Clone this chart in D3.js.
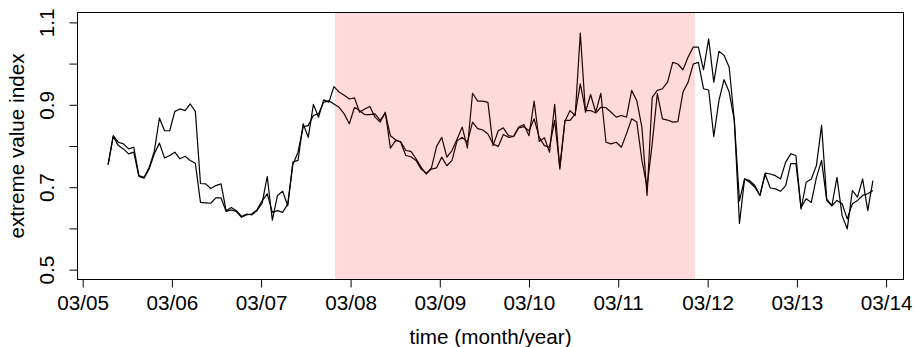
<!DOCTYPE html>
<meta charset="utf-8">
<head>
  <script src="https://d3js.org/d3.v7.min.js"></script>
  <style>
    body { margin: 0; background: #fff; }
    svg { display: block; }
    text { font-family: "Liberation Sans", Arial, sans-serif; fill: #000; }
  </style>
  <title>extreme value index</title>
</head>

<body>
  <!-- Create a div where the graph will take place -->
  <div id="my_dataviz"></div>

  <script>

    // sampling of the series: one value every 3 weeks
    var startDate = "2005-06-13";
    var stepDays = 21;

    // the two estimates of the index
    var seriesA = [
      0.755, 0.825, 0.809, 0.805, 0.793, 0.797, 0.728, 0.724, 0.748, 0.787,
      0.868, 0.837, 0.837, 0.884, 0.890, 0.886, 0.902, 0.884, 0.709, 0.708,
      0.697, 0.704, 0.708, 0.643, 0.651, 0.643, 0.629, 0.635, 0.633, 0.643,
      0.661, 0.726, 0.620, 0.680, 0.690, 0.655, 0.761, 0.765, 0.854, 0.821,
      0.901, 0.870, 0.912, 0.906, 0.944, 0.931, 0.923, 0.914, 0.917, 0.882,
      0.890, 0.896, 0.870, 0.858, 0.882, 0.795, 0.813, 0.811, 0.789, 0.787,
      0.769, 0.748, 0.732, 0.747, 0.799, 0.821, 0.773, 0.789, 0.817, 0.846,
      0.795, 0.928, 0.909, 0.909, 0.906, 0.801, 0.837, 0.844, 0.825, 0.823,
      0.846, 0.852, 0.825, 0.909, 0.811, 0.820, 0.785, 0.901, 0.744, 0.860,
      0.886, 0.874, 1.074, 0.882, 0.925, 0.882, 0.928, 0.809, 0.805, 0.809,
      0.797, 0.830, 0.866, 0.858, 0.765, 0.700, 0.805, 0.927, 0.866, 0.863,
      0.858, 0.859, 0.931, 0.955, 0.999, 1.003, 0.939, 0.936, 0.823, 0.910,
      0.961, 0.931, 0.862, 0.667, 0.720, 0.712, 0.700, 0.680, 0.732, 0.698,
      0.696, 0.690, 0.704, 0.757, 0.757, 0.651, 0.672, 0.663, 0.724, 0.765,
      0.668, 0.655, 0.668, 0.660, 0.623, 0.660, 0.668, 0.680, 0.684, 0.692
    ];
    var seriesB = [
      0.755, 0.823, 0.801, 0.793, 0.781, 0.785, 0.726, 0.722, 0.744, 0.781,
      0.807, 0.771, 0.777, 0.785, 0.769, 0.775, 0.765, 0.758, 0.663, 0.662,
      0.661, 0.674, 0.674, 0.641, 0.645, 0.641, 0.627, 0.633, 0.635, 0.645,
      0.667, 0.684, 0.639, 0.643, 0.639, 0.659, 0.755, 0.785, 0.846, 0.850,
      0.874, 0.878, 0.906, 0.910, 0.902, 0.894, 0.878, 0.854, 0.894, 0.886,
      0.876, 0.876, 0.878, 0.862, 0.880, 0.825, 0.815, 0.809, 0.777, 0.774,
      0.765, 0.744, 0.734, 0.744, 0.747, 0.773, 0.752, 0.765, 0.813, 0.821,
      0.809, 0.858, 0.842, 0.839, 0.829, 0.805, 0.799, 0.828, 0.821, 0.823,
      0.844, 0.847, 0.837, 0.866, 0.821, 0.801, 0.797, 0.862, 0.748, 0.862,
      0.862, 0.878, 0.951, 0.886, 0.886, 0.880, 0.894, 0.893, 0.882, 0.870,
      0.874, 0.870, 0.935, 0.910, 0.845, 0.680, 0.918, 0.935, 0.939, 0.955,
      1.003, 0.999, 0.985, 1.016, 1.040, 1.040, 0.985, 1.060, 0.955, 1.030,
      1.020, 0.991, 0.862, 0.612, 0.720, 0.716, 0.704, 0.680, 0.734, 0.732,
      0.728, 0.720, 0.761, 0.781, 0.777, 0.647, 0.712, 0.720, 0.753, 0.850,
      0.672, 0.655, 0.724, 0.631, 0.599, 0.692, 0.676, 0.720, 0.643, 0.716
    ];

    // shaded period
    var shadeStart = "2007-12-28";
    var shadeEnd = "2012-01-09";

    // axis ticks
    var xTickLabels = ["03/05", "03/06", "03/07", "03/08", "03/09", "03/10", "03/11", "03/12", "03/13", "03/14"];
    var yTicks = [0.5, 0.6, 0.7, 0.8, 0.9, 1.0, 1.1];
    var yTickLabels = ["0.5", "0.7", "0.9", "1.1"];
    var yLimits = [0.5, 1.1];

    // set the dimensions and margins of the graph
    var margin = { top: 12.5, right: 12.5, bottom: 67.5, left: 77.5 },
      width = 916 - margin.left - margin.right,
      height = 347 - margin.top - margin.bottom;

    var fontSize = "20.7px";

    var svgRoot = d3.select("#my_dataviz")
      .append("svg")
      .attr("width", 916)
      .attr("height", 347);

    var svg = svgRoot.append("g")
      .attr("transform", "translate(" + margin.left + "," + margin.top + ")");

    var parseDay = d3.utcParse("%Y-%m-%d");
    var parseTick = d3.utcParse("%m/%y");
    var first = parseDay(startDate);

    var data = seriesA.map(function (v, i) {
      return { date: d3.utcDay.offset(first, i * stepDays), a: v, b: seriesB[i] };
    });

    // R style axes: 4% padding on both sides
    var t0 = +data[0].date, t1 = +data[data.length - 1].date;
    var pad = (t1 - t0) * 0.04;
    var x = d3.scaleUtc()
      .domain([new Date(t0 - pad), new Date(t1 + pad)])
      .range([0, width]);

    var yPad = (yLimits[1] - yLimits[0]) * 0.04;
    var y = d3.scaleLinear()
      .domain([yLimits[0] - yPad, yLimits[1] + yPad])
      .range([height, 0]);

    // Lines
    var lineA = d3.line()
      .x(function (d) { return x(d.date); })
      .y(function (d) { return y(d.a); });
    var lineB = d3.line()
      .x(function (d) { return x(d.date); })
      .y(function (d) { return y(d.b); });

    svg.append("path")
      .datum(data)
      .attr("fill", "none")
      .attr("stroke", "#000")
      .attr("stroke-width", 1.2)
      .attr("stroke-linejoin", "round")
      .attr("d", lineA);

    svg.append("path")
      .datum(data)
      .attr("fill", "none")
      .attr("stroke", "#000")
      .attr("stroke-width", 1.2)
      .attr("stroke-linejoin", "round")
      .attr("d", lineB);

    // shaded period, drawn over the lines (semi transparent)
    svg.append("rect")
      .attr("x", x(parseDay(shadeStart)))
      .attr("y", 0)
      .attr("width", x(parseDay(shadeEnd)) - x(parseDay(shadeStart)))
      .attr("height", height)
      .attr("fill", "#ff0000")
      .attr("fill-opacity", 0.145);

    // box
    svg.append("rect")
      .attr("x", 0)
      .attr("y", 0)
      .attr("width", width)
      .attr("height", height)
      .attr("fill", "none")
      .attr("stroke", "#000")
      .attr("stroke-width", 1);

    // X axis
    var xAxis = svg.append("g")
      .attr("transform", "translate(0," + height + ")")
      .call(d3.axisBottom(x)
        .tickValues(xTickLabels.map(function (s) { return parseTick(s); }))
        .tickFormat(d3.utcFormat("%m/%y"))
        .tickSize(8));
    xAxis.select(".domain").remove();
    xAxis.selectAll("line").attr("stroke", "#000");
    xAxis.selectAll("text")
      .attr("y", 30)
      .attr("dy", null)
      .style("font-size", fontSize)
      .style("font-family", "\"Liberation Sans\", Arial, sans-serif");

    // Y axis
    var yAxis = svg.append("g")
      .call(d3.axisLeft(y)
        .tickValues(yTicks)
        .tickFormat(function (d) {
          var s = d3.format(".1f")(d);
          return yTickLabels.indexOf(s) >= 0 ? s : "";
        })
        .tickSize(8));
    yAxis.select(".domain").remove();
    yAxis.selectAll("line").attr("stroke", "#000");
    yAxis.selectAll("text")
      .attr("x", 0)
      .attr("dy", null)
      .attr("text-anchor", "middle")
      .attr("transform", "translate(-24,0) rotate(-90)")
      .style("font-size", fontSize)
      .style("font-family", "\"Liberation Sans\", Arial, sans-serif");

    // axis titles
    svgRoot.append("text")
      .attr("x", margin.left + width / 2)
      .attr("y", 343.5)
      .attr("text-anchor", "middle")
      .style("font-size", fontSize)
      .text("time (month/year)");

    svgRoot.append("text")
      .attr("transform", "translate(23.5," + (margin.top + height / 2) + ") rotate(-90)")
      .attr("text-anchor", "middle")
      .style("font-size", fontSize)
      .text("extreme value index");

  </script>
</body>
